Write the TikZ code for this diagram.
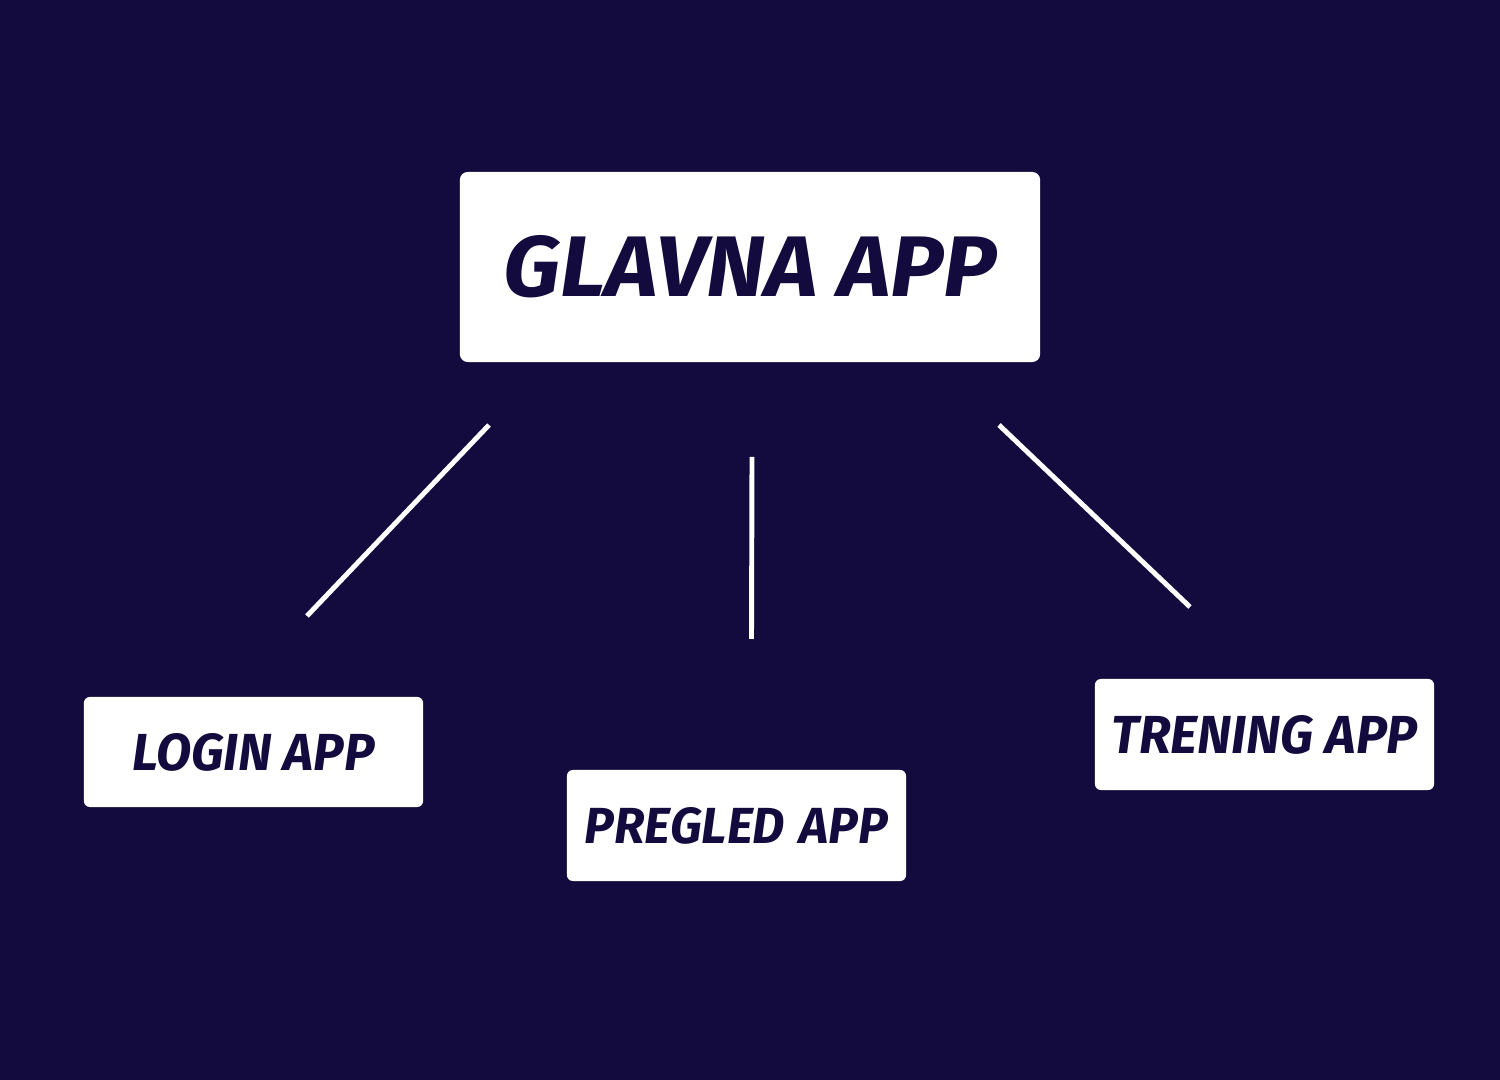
\documentclass[tikz,border=0pt]{standalone}
\usepackage{fontspec}
\setmainfont{Fira Sans}
\usepackage{graphicx}
\definecolor{navy}{HTML}{130A3D}
\newcommand{\fitlabel}[3]{\resizebox{#1}{#2}{\bfseries\itshape #3}}
\begin{document}
\begin{tikzpicture}[x=0.01cm,y=-0.01cm,
  appbox/.style={fill=white,draw=none,rounded corners=0.06cm,inner sep=0pt,text=navy},
  link/.style={draw=white,line width=1.4pt}]
\fill[navy] (0,0) rectangle (1500,1080);
\useasboundingbox (0,0) rectangle (1500,1080);
% boxes
\node[appbox,rounded corners=0.08cm,minimum width=5.80cm,minimum height=1.90cm] (glavna) at (750,267) {\fitlabel{4.93cm}{0.61cm}{GLAVNA APP}};
\node[appbox,minimum width=3.39cm,minimum height=1.10cm] (login) at (253.5,752) {\fitlabel{2.42cm}{0.37cm}{LOGIN APP}};
\node[appbox,minimum width=3.39cm,minimum height=1.11cm] (pregled) at (736.5,825.5) {\fitlabel{3.03cm}{0.36cm}{PREGLED\hspace{0.3em}APP}};
\node[appbox,minimum width=3.39cm,minimum height=1.11cm] (trening) at (1264.5,734.5) {\fitlabel{3.06cm}{0.38cm}{TRENING APP}};
% free-standing connectors
\coordinate (l1a) at (489,425);
\coordinate (l1b) at (307,616);
\coordinate (l2a) at (752,457);
\coordinate (l2b) at (751.5,639);
\coordinate (l3a) at (999,425);
\coordinate (l3b) at (1190,607);
\draw[link] (l1a) -- (l1b);
\draw[link] (l2a) -- (l2b);
\draw[link] (l3a) -- (l3b);
\end{tikzpicture}
\end{document}
